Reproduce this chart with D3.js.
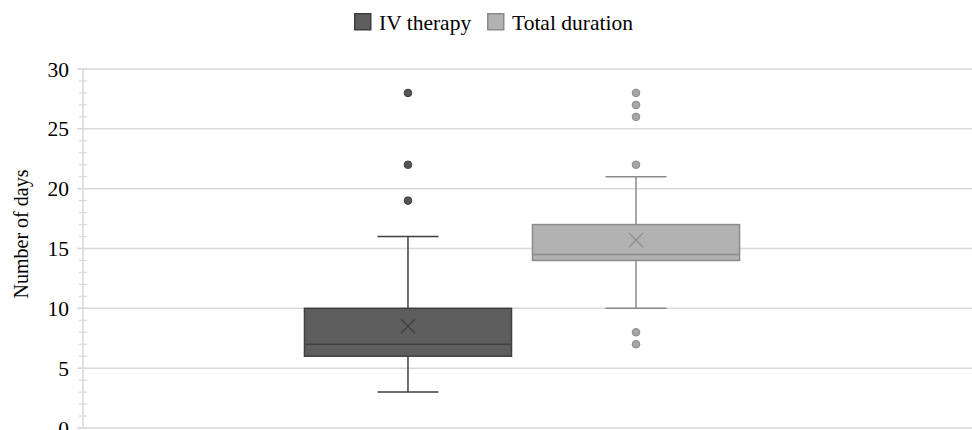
<!DOCTYPE html>
<html>
<head>
<meta charset="utf-8">
<script src="https://cdn.jsdelivr.net/npm/d3@7"></script>
<style>
html,body{margin:0;padding:0;background:#fff;}
svg{display:block;font-family:"Liberation Serif","Times New Roman",serif;}
</style>
</head>
<body>
<svg id="chart" width="972" height="430"></svg>
<script>
const categories = [""];
const seriesNames = ["IV therapy", "Total duration"];
const whiskerLow = [3, 10];
const q1 = [6, 14];
const median = [7, 14.5];
const q3 = [10, 17];
const whiskerHigh = [16, 21];
const means = [8.5, 15.7];
const outliersIV = [28, 22, 19];
const outliersTotal = [28, 27, 26, 22, 8, 7];
const yTicks = [0, 5, 10, 15, 20, 25, 30];
const yLabel = "Number of days";

const fills = ["#5e5e5e", "#b2b2b2"];
const strokes = ["#3f3f3f", "#8a8a8a"];
const dotFill = ["#555555", "#a6a6a6"];

const svg = d3.select("#chart");
const plotLeft = 83, plotRight = 961, plotTop = 69, plotBottom = 428;

const y = d3.scaleLinear().domain([0, 30]).range([plotBottom, plotTop]);
const x0 = d3.scaleBand().domain(categories).range([plotLeft, plotRight]).paddingInner(0).paddingOuter(0.509);
const x1 = d3.scaleBand().domain(seriesNames).range([0, x0.bandwidth()]).paddingInner(0.092).paddingOuter(0);

// gridlines
svg.append("g").selectAll("line").data(yTicks).join("line")
  .attr("x1", plotLeft - 6).attr("x2", 972)
  .attr("y1", d => y(d)).attr("y2", d => y(d))
  .attr("stroke", "#d9d9d9").attr("stroke-width", 1.5);

// axis line + minor ticks
svg.append("line").attr("x1", plotLeft).attr("x2", plotLeft).attr("y1", y(30)).attr("y2", y(0))
  .attr("stroke", "#d9d9d9").attr("stroke-width", 1.5);
svg.append("g").selectAll("line").data(d3.range(0, 31)).join("line")
  .attr("x1", plotLeft - 4).attr("x2", plotLeft + 4)
  .attr("y1", d => y(d)).attr("y2", d => y(d))
  .attr("stroke", "#d9d9d9").attr("stroke-width", 1.2);

// tick labels
svg.append("g").selectAll("text").data(yTicks).join("text")
  .attr("x", 69).attr("y", d => y(d)).attr("dy", "0.35em")
  .attr("text-anchor", "end").attr("font-size", 21.5).attr("fill", "#000")
  .text(d => d);

// y label
svg.append("text").attr("transform", "translate(28,234) rotate(-90)")
  .attr("text-anchor", "middle").attr("font-size", 20).attr("fill", "#000").text(yLabel);

// boxes
const data = seriesNames.map((s, i) => ({
  s, i, lo: whiskerLow[i], q1: q1[i], med: median[i], q3: q3[i], hi: whiskerHigh[i], mean: means[i],
  out: i === 0 ? outliersIV : outliersTotal
}));

const g = svg.append("g").attr("transform", `translate(${x0(categories[0])},0)`);
data.forEach(d => {
  const bx = x1(d.s), bw = x1.bandwidth(), cx = bx + bw / 2;
  const gg = g.append("g");
  gg.append("line").attr("x1", cx).attr("x2", cx).attr("y1", y(d.hi)).attr("y2", y(d.q3))
    .attr("stroke", strokes[d.i]).attr("stroke-width", 1.5);
  gg.append("line").attr("x1", cx).attr("x2", cx).attr("y1", y(d.q1)).attr("y2", y(d.lo))
    .attr("stroke", strokes[d.i]).attr("stroke-width", 1.5);
  [d.hi, d.lo].forEach(v => {
    gg.append("line").attr("x1", cx - 30.5).attr("x2", cx + 30.5).attr("y1", y(v)).attr("y2", y(v))
      .attr("stroke", strokes[d.i]).attr("stroke-width", 1.5);
  });
  gg.append("rect").attr("x", bx).attr("y", y(d.q3)).attr("width", bw).attr("height", y(d.q1) - y(d.q3))
    .attr("fill", fills[d.i]).attr("stroke", strokes[d.i]).attr("stroke-width", 1.5);
  gg.append("line").attr("x1", bx).attr("x2", bx + bw).attr("y1", y(d.med)).attr("y2", y(d.med))
    .attr("stroke", strokes[d.i]).attr("stroke-width", 1.5);
  const my = y(d.mean), r = 7;
  gg.append("path").attr("d", `M${cx - r},${my - r}L${cx + r},${my + r}M${cx - r},${my + r}L${cx + r},${my - r}`)
    .attr("stroke", strokes[d.i]).attr("stroke-width", 1.3).attr("fill", "none");
  gg.selectAll("circle").data(d.out).join("circle")
    .attr("cx", cx).attr("cy", v => y(v)).attr("r", 3.8)
    .attr("fill", dotFill[d.i]).attr("stroke", strokes[d.i]).attr("stroke-width", 1);
});

// legend
const legend = svg.append("g");
const legendItems = [{ s: seriesNames[0], x: 354 }, { s: seriesNames[1], x: 487 }];
legendItems.forEach((it, i) => {
  legend.append("rect").attr("x", it.x + 0.75).attr("y", 13.75).attr("width", 16).attr("height", 16)
    .attr("fill", fills[i]).attr("stroke", strokes[i]).attr("stroke-width", 1.5);
  legend.append("text").attr("x", it.x + 25).attr("y", 22).attr("dy", "0.35em")
    .attr("font-size", 21.5).attr("fill", "#000").text(it.s);
});
</script>
</body>
</html>
